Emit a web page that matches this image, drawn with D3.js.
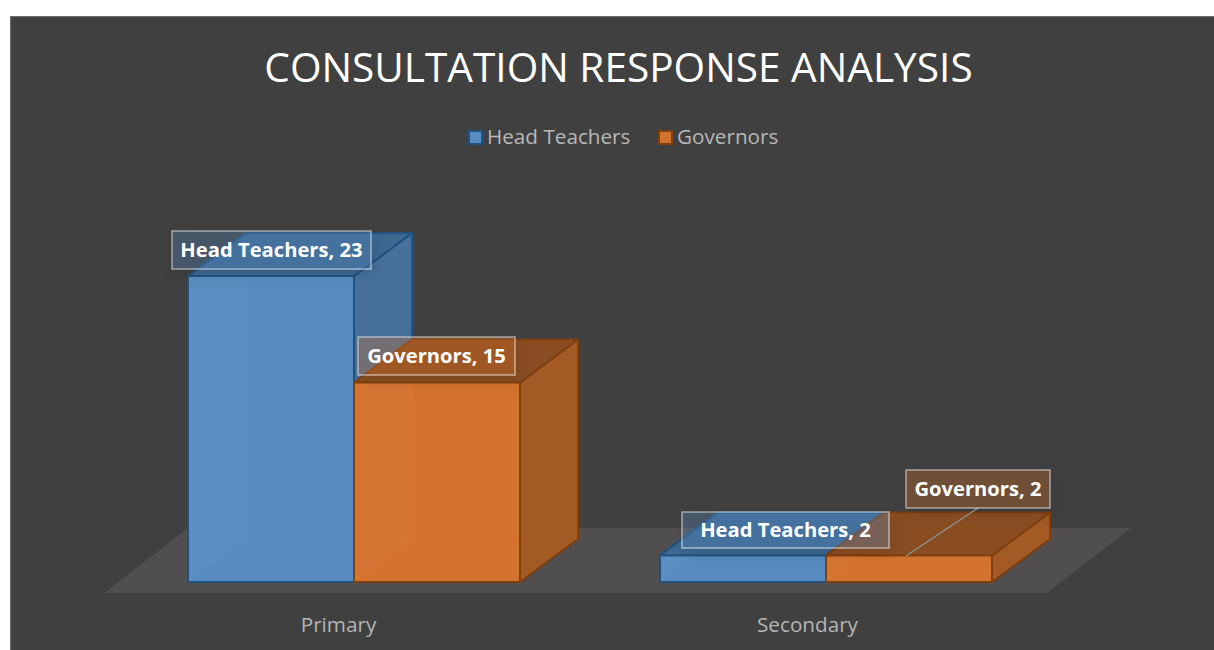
<!DOCTYPE html>
<html>
<head>
<meta charset="utf-8">
<script src="https://cdn.jsdelivr.net/npm/d3@7"></script>
<style>
    html, body { margin: 0; padding: 0; background: #fff; overflow: hidden; }
    svg { display: block; }
    text { font-family: "Open Sans", sans-serif; }
</style>
</head>
<body>
<svg id="chart" width="1214" height="650"></svg>
<script>
var categories = ["Primary", "Secondary"];
var seriesNames = ["Head Teachers", "Governors"];
var headTeachers = [23, 2];
var governors = [15, 2];
var seriesValues = [headTeachers, governors];

var titleText = "CONSULTATION RESPONSE ANALYSIS";

var faceColors = [
    {front: "#588cc0", side: "#47719a", top: "#3c6892", line: "#22527f", hidden: "#4f93d2"},
    {front: "#d4722f", side: "#a35a25", top: "#8a4d22", line: "#7f400f", hidden: "#ec7a2c"}
];

var depthX = 58;  // of the bars, going back
var depthY = 43;  // of the bars, going back
var floorDepthX = 84;
var floorDepthY = 65;
var barWidth = 166;
var floorFront = 593;

var svg = d3.select("#chart");

var defs = svg.append("defs");
var blur = defs.append("filter").attr("id", "labelShadow")
    .attr("x", "-20%").attr("y", "-40%").attr("width", "140%").attr("height", "200%");
blur.append("feDropShadow")
    .attr("dx", 3).attr("dy", 5).attr("stdDeviation", 7)
    .attr("flood-color", "#000").attr("flood-opacity", 0.3);

// frame
svg.append("rect")
    .attr("x", 10.5).attr("y", 16.5)
    .attr("width", 1240).attr("height", 660)
    .attr("fill", "#404040")
    .attr("stroke", "#6e6e6e");

var xScale = d3.scaleBand().domain(categories).range([104, 1042]);  // axis labels
var barScale = d3.scalePoint().domain(categories).range([354, 826]);  // bars sit right of the labels because of the 3d floor
var yScale = d3.scaleLinear().domain([0, 25]).range([582, 249.5]);

// floor
svg.append("polygon")
    .attr("points", [
        [104, floorFront],
        [1047, floorFront],
        [1047 + floorDepthX, floorFront - floorDepthY],
        [104 + floorDepthX, floorFront - floorDepthY]
    ].join(" "))
    .attr("fill", "#504e4e");

// title
svg.append("text")
    .attr("x", 618.5).attr("y", 82)
    .attr("text-anchor", "middle")
    .attr("fill", "#fff")
    .style("font-size", "40.6px")
    .text(titleText);

// legend
var legendX = [468, 658];
var legend = svg.selectAll(".legendItem").data(seriesNames).enter().append("g")
    .attr("class", "legendItem")
    .attr("transform", (d, i) => "translate(" + legendX[i] + ",130)");
legend.append("rect")
    .attr("x", 1).attr("y", 1).attr("width", 13).attr("height", 13)
    .attr("fill", (d, i) => faceColors[i].front)
    .attr("stroke", (d, i) => faceColors[i].line)
    .attr("stroke-width", 2);
legend.append("text")
    .attr("x", 19).attr("y", 14)
    .attr("fill", "#b8b8b8")
    .style("font-size", "20.7px")
    .text(d => d);

// axis, labels only
var axisGroup = svg.append("g")
    .attr("transform", "translate(0," + floorFront + ")")
    .call(d3.axisBottom(xScale).tickSize(0).tickPadding(24));
axisGroup.select(".domain").remove();
axisGroup.selectAll("text")
    .attr("fill", "#b4b4b4")
    .style("font-size", "20.7px")
    .style("font-family", "\"Open Sans\", sans-serif");

function drawBar(catIndex, seriesIndex) {
    var value = seriesValues[seriesIndex][catIndex];
    var c = faceColors[seriesIndex];
    var left = barScale(categories[catIndex]) - barWidth + seriesIndex * barWidth;
    var right = left + barWidth;
    var top = yScale(value);
    var bottom = yScale(0);
    var g = svg.append("g").attr("stroke", c.line).attr("stroke-width", 2).attr("stroke-linejoin", "round");

    g.append("polygon")
        .attr("points", [[right, top], [right + depthX, top - depthY], [right + depthX, bottom - depthY], [right, bottom]].join(" "))
        .attr("fill", c.side);
    g.append("polygon")
        .attr("points", [[left, top], [left + depthX, top - depthY], [right + depthX, top - depthY], [right, top]].join(" "))
        .attr("fill", c.top);
    g.append("rect")
        .attr("x", left).attr("y", top)
        .attr("width", barWidth).attr("height", bottom - top)
        .attr("fill", c.front);

    // back edges that show through the glassy front face, kept inside it
    var clipId = "front" + catIndex + "_" + seriesIndex;
    defs.append("clipPath").attr("id", clipId).append("rect")
        .attr("x", left + 1).attr("y", top + 1)
        .attr("width", barWidth - 2).attr("height", bottom - top - 2);
    var inner = svg.append("g").attr("clip-path", "url(#" + clipId + ")");
    inner.append("polygon")
        .attr("points", [[left, top], [left + depthX, top - depthY], [left + depthX, bottom - depthY], [left, bottom]].join(" "))
        .attr("fill", "#fff")
        .attr("fill-opacity", 0.025);
    inner.append("path")
        .attr("d", "M" + (left + depthX) + "," + top
            + "L" + (left + depthX) + "," + (bottom - depthY)
            + "L" + left + "," + bottom
            + "M" + (left + depthX) + "," + (bottom - depthY)
            + "L" + right + "," + (bottom - depthY))
        .attr("fill", "none")
        .attr("stroke", c.hidden)
        .attr("stroke-opacity", 0.3)
        .attr("stroke-width", 1.5);
}

categories.forEach(function(cat, i) {
    seriesNames.forEach(function(name, j) {
        drawBar(i, j);
    });
});

// callout boxes, [x, y, width, height] for each category and series
var labelBoxes = [
    [[172, 231, 199, 38], [358, 337, 157, 38]],
    [[682, 512, 207, 36], [906, 470, 144, 38]]
];

// leader line of the moved Governors label
svg.append("line")
    .attr("x1", 978).attr("y1", 508)
    .attr("x2", 906).attr("y2", 556)
    .attr("stroke", "#8f8f8f")
    .attr("stroke-width", 1.5);

categories.forEach(function(cat, i) {
    seriesNames.forEach(function(name, j) {
        var box = labelBoxes[i][j];
        svg.append("rect")
            .attr("x", box[0]).attr("y", box[1])
            .attr("width", box[2]).attr("height", box[3])
            .attr("fill", faceColors[j].front)
            .attr("fill-opacity", 0.3)
            .attr("stroke", "#fff")
            .attr("stroke-opacity", 0.5)
            .attr("stroke-width", 1.5)
            .attr("filter", "url(#labelShadow)");
        svg.append("text")
            .attr("x", box[0] + box[2] / 2)
            .attr("y", box[1] + box[3] / 2 + 7)
            .attr("text-anchor", "middle")
            .attr("fill", "#fff")
            .style("font-size", "20.2px")
            .style("font-weight", "700")
            .text(name + ", " + seriesValues[j][i]);
    });
});
</script>
</body>
</html>
